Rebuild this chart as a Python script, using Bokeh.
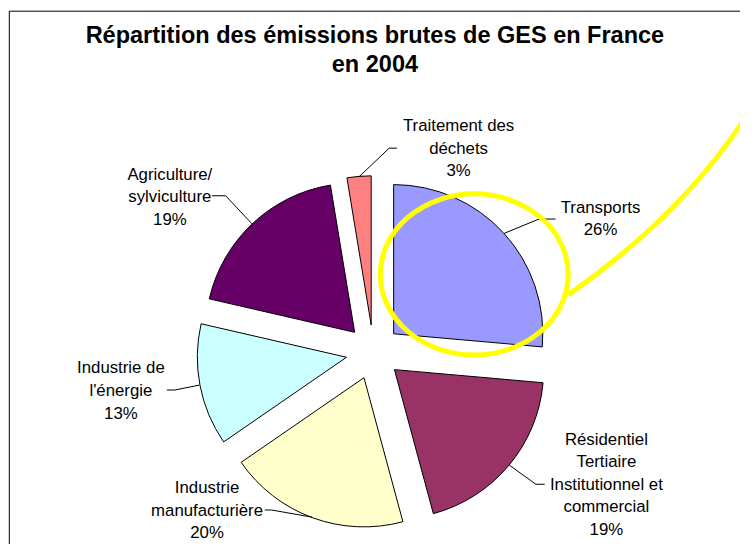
import math
from bokeh.plotting import figure
from bokeh.models import Range1d, ColumnDataSource
from bokeh.core.properties import value
from bokeh.embed import file_html
from bokeh.resources import INLINE

# ---------------- data ----------------
categories = ["Transports",
              "Résidentiel Tertiaire Institutionnel et commercial",
              "Industrie manufacturière",
              "Industrie de l'énergie",
              "Agriculture/sylviculture",
              "Traitement des déchets"]
shares = [26.4, 19.4, 19.6, 13.2, 18.8, 2.6]
label_lines = [["Transports"],
               ["Résidentiel", "Tertiaire", "Institutionnel et", "commercial"],
               ["Industrie", "manufacturière"],
               ["Industrie de", "l'énergie"],
               ["Agriculture/", "sylviculture"],
               ["Traitement des", "déchets"]]
colors = ["#9999FF", "#993366", "#FFFFCC", "#CCFFFF", "#660066", "#FF8080"]
title_lines = ["Répartition des émissions brutes de GES en France", "en 2004"]

# ---------------- layout (reference-picture pixels, scaled to the figure) ----------------
W, H = 740, 544
SX, SY = W / 756.0, H / 560.0
def X(px): return px * SX
def Y(py): return H - py * SY

CX, CY = 381, 362          # pie centre
R = 153                    # radius
EXPLODE = 28               # explosion distance
LINE_H = 23.3
label_pos = [(613, 224.5), (619, 498), (211, 524.5), (123, 401.5), (173, 202), (468, 152)]
leader_elbow = [(550, 225), (547, 498), (277, 524.5), (178, 401), (230, 201), (397, 152)]
leader_tail = [(567, 225), (556, 498), (270, 524.5), (170, 401), (216, 201), (405, 152)]
title_x, title_y = [382.5, 382.5], [35, 65.5]

p = figure(width=W, height=H, output_backend="svg", toolbar_location=None,
           x_range=Range1d(0, W), y_range=Range1d(0, H), min_border=0)
p.axis.visible = False
p.grid.visible = False
p.outline_line_color = None
p.background_fill_color = "white"
p.border_fill_color = "white"

# frame (top and left edges visible)
p.line(x=[X(9), X(9), X(900)], y=[Y(900), Y(11), Y(11)], line_color="black", line_width=1)

total = sum(shares)
xs, ys, sa, ea, lx0, ly0 = [], [], [], [], [], []
cum = 0.0
for v in shares:
    a1 = cum / total * 360.0
    cum += v
    a2 = cum / total * 360.0
    mid = math.radians((a1 + a2) / 2)
    ax = CX + EXPLODE * math.sin(mid)
    ay = CY - EXPLODE * math.cos(mid)
    xs.append(X(ax)); ys.append(Y(ay))
    sa.append(math.radians(90 - a2)); ea.append(math.radians(90 - a1))
    lx0.append(ax + R * math.sin(mid)); ly0.append(ay - R * math.cos(mid))

src = ColumnDataSource(dict(x=xs, y=ys, sa=sa, ea=ea, color=colors, name=categories))
p.wedge(x="x", y="y", radius=R * (SX + SY) / 2, start_angle="sa", end_angle="ea",
        direction="anticlock", fill_color="color", line_color="black", line_width=1, source=src)

# leader lines
for i in range(len(shares)):
    p.line(x=[X(lx0[i]), X(leader_elbow[i][0]), X(leader_tail[i][0])],
           y=[Y(ly0[i]), Y(leader_elbow[i][1]), Y(leader_tail[i][1])],
           line_color="black", line_width=1)

# labels
tx, ty, tt = [], [], []
for i, v in enumerate(shares):
    lines = label_lines[i] + [f"{int(v + 0.5)}%"]
    n = len(lines)
    for k, s in enumerate(lines):
        tx.append(X(label_pos[i][0]))
        ty.append(Y(label_pos[i][1] + (k - (n - 1) / 2) * LINE_H))
        tt.append(s)
p.text(x=tx, y=ty, text=tt, text_align="center", text_baseline="middle",
       text_font=value("Liberation Sans"), text_font_size="16.8px", text_color="black")

# title
p.text(x=[X(v) for v in title_x], y=[Y(v) for v in title_y], text=title_lines,
       text_align="center", text_baseline="middle", text_font=value("Liberation Sans"),
       text_font_size="23.5px", text_font_style="bold", text_color="black")

# yellow highlight
p.ellipse(x=[X(484)], y=[Y(282)], width=192 * SX, height=166 * SY, fill_color=None,
          line_color="#FFFF00", line_width=5)
p.quadratic(x0=[X(580)], y0=[Y(303)], x1=[X(760)], y1=[Y(122)], cx=[X(695)], cy=[Y(222)],
            line_color="#FFFF00", line_width=5)

open("out.html", "w").write(file_html(p, INLINE))
